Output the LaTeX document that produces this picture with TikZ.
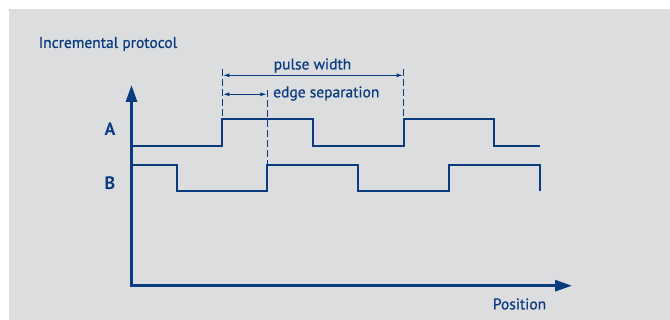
\documentclass[tikz,border=0pt]{standalone}
\usepackage{fontspec}
\setmainfont{PT Sans}
\newfontfamily\lblfont[FakeBold=0.6]{PT Sans}
\usetikzlibrary{arrows.meta}
\definecolor{navy}{HTML}{0B3B7F}
\definecolor{bgray}{HTML}{DCDDDF}
\begin{document}
\begin{tikzpicture}[x=1pt,y=-1pt,
  wave/.style={navy, line width=1.7pt, line join=miter},
  axisline/.style={navy, line width=3pt, {Triangle[length=17pt,width=11pt]}-{Triangle[length=17pt,width=11pt]}},
  guide/.style={navy, line width=1.4pt, dash pattern=on 7pt off 3pt},
  dimline/.style={navy, line width=1.4pt, {Latex[length=7pt,width=4pt]}-{Latex[length=7pt,width=4pt]}},
  lbl/.style={text=navy, inner sep=0pt, font=\lblfont\fontsize{15.5}{17}\selectfont},
  big/.style={text=navy, inner sep=0pt, font=\fontsize{18}{20}\selectfont\bfseries}]
\useasboundingbox (0,0) rectangle (670,320);
\fill[bgray] (9,9) rectangle (670,320);
% axes
\coordinate (O) at (131.5,285.7);
\coordinate (ytip) at (131.5,85);
\coordinate (xtip) at (572,285.7);
\draw[axisline] (ytip) -- (O) -- (xtip);
% waveforms
\draw[wave] (131.5,145.7) -- (222.3,145.7) -- (222.3,119) -- (312.7,119) -- (312.7,145.7) -- (403.7,145.7) -- (403.7,119) -- (494.3,119) -- (494.3,145.7) -- (540,145.7);
\draw[wave] (131.5,164.7) -- (177,164.7) -- (177,190.7) -- (267.3,190.7) -- (267.3,164.7) -- (358.3,164.7) -- (358.3,190.7) -- (449,190.7) -- (449,164.7) -- (540,164.7) -- (540,190.7);
% guides
\coordinate (g1t) at (222.3,69);  \coordinate (g1b) at (222.3,119);
\coordinate (g2t) at (403.7,69);  \coordinate (g2b) at (403.7,119);
\coordinate (g3t) at (267.3,90.5); \coordinate (g3b) at (267.3,164.7);
\draw[guide] (g1t) -- (g1b);
\draw[guide] (g2t) -- (g2b);
\draw[guide] (g3t) -- (g3b);
\coordinate (pwl) at (222.3,75.3); \coordinate (pwr) at (403.7,75.3);
\coordinate (esl) at (222.3,94.3); \coordinate (esr) at (267.3,94.3);
\draw[dimline] (pwl) -- (pwr);
\draw[dimline] (esl) -- (esr);
% labels
\node[lbl, anchor=west] (title) at (38.5,44) {Incremental protocol};
\node[lbl] (pw) at (312.5,65.5) {pulse width};
\node[lbl, anchor=west] (es) at (273,93.5) {edge separation};
\node[lbl] (pos) at (519.5,304) {Position};
\node[big] (A) at (110,129) {A};
\node[big] (B) at (110,183) {B};
\end{tikzpicture}
\end{document}
